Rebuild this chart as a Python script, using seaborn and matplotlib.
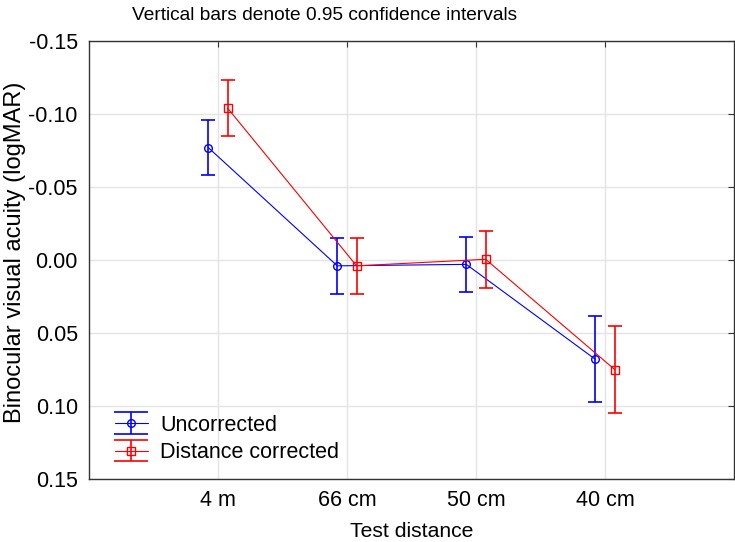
import matplotlib
matplotlib.use('Agg')
import matplotlib.pyplot as plt
from matplotlib.lines import Line2D
from matplotlib.container import ErrorbarContainer
from matplotlib.legend_handler import HandlerTuple, HandlerErrorbar
import seaborn as sns
import pandas as pd
import numpy as np

# Datos
distances = ['4 m', '66 cm', '50 cm', '40 cm']
groups = ['Uncorrected', 'Distance corrected']
uncorrected_mean = [-0.077, 0.004, 0.003, 0.068]
uncorrected_ci = [0.019, 0.019, 0.019, 0.0295]
corrected_mean = [-0.104, 0.004, -0.0005, 0.075]
corrected_ci = [0.019, 0.019, 0.0195, 0.0295]
y_ticks = [-0.15, -0.10, -0.05, 0.00, 0.05, 0.10, 0.15]

# Estilo
sns.set_style('white')
plt.rcParams['font.family'] = ['Liberation Sans', 'DejaVu Sans']
plt.rcParams['text.color'] = 'black'
plt.rcParams['axes.labelcolor'] = 'black'
plt.rcParams['xtick.labelcolor'] = 'black'
plt.rcParams['ytick.labelcolor'] = 'black'

colors = {'Uncorrected': '#0000ff', 'Distance corrected': '#ff0000'}
markers = {'Uncorrected': 'o', 'Distance corrected': 's'}
offsets = {'Uncorrected': -0.075, 'Distance corrected': 0.075}

rows = []
for g, means, cis in [(groups[0], uncorrected_mean, uncorrected_ci),
                      (groups[1], corrected_mean, corrected_ci)]:
    for i, (d, m, c) in enumerate(zip(distances, means, cis)):
        rows.append({'group': g, 'distance': d, 'pos': i + offsets[g],
                     'mean': m, 'ci': c})
df = pd.DataFrame(rows)

fig = plt.figure(figsize=(7.35, 5.42), dpi=100)
ax = fig.add_axes([0.121, 0.1162, 0.8776, 0.8082])

handles = []
for g in groups:
    sub = df[df['group'] == g]
    c = colors[g]
    sns.lineplot(data=sub, x='pos', y='mean', color=c, marker=markers[g],
                 markersize=5.5, mfc='none', mec=c, mew=1.0, linewidth=0.8,
                 estimator=None, sort=False, legend=False, ax=ax)
    line = ax.lines[-1]
    err = ax.errorbar(sub['pos'], sub['mean'], yerr=sub['ci'], fmt='none',
                      ecolor=c, elinewidth=1.2, capsize=5, capthick=1.2)
    handles.append((line, err))

# Ejes
ax.set_xlim(-1, 4)
ax.set_xticks(range(len(distances)))
ax.set_xticklabels(distances)
ax.set_ylim(0.15, -0.15)
ax.set_yticks(y_ticks)
ax.set_yticklabels([f'{v:.2f}' for v in y_ticks])
ax.tick_params(axis='both', direction='in', length=4, width=0.8,
               labelsize=15.5, top=True, right=True, color='#333333', pad=8)
ax.grid(True, color='#e4e4e4', linewidth=1.0)
ax.set_axisbelow(True)
for s in ax.spines.values():
    s.set_color('#333333')
    s.set_linewidth(1.0)

ax.set_xlabel('Test distance', fontsize=15.2, labelpad=8)
ax.set_ylabel('Binocular visual acuity (logMAR)', fontsize=17, va='center')
ax.yaxis.set_label_coords(-0.115, 0.517)
fig.text(325 / 735, 1 - 15 / 542, 'Vertical bars denote 0.95 confidence intervals',
         ha='center', va='center', fontsize=13.8)


def wide_caps(legend_handle, orig_handle):
    legend_handle.update_from(orig_handle)
    if isinstance(legend_handle, Line2D):
        legend_handle.set_markersize(24)


ax.legend(handles=handles, labels=groups, loc='lower left',
          bbox_to_anchor=(0.02, 0.007), frameon=False, fontsize=15.5,
          handlelength=1.55, handletextpad=0.55, labelspacing=0.3,
          borderaxespad=0.2,
          handler_map={tuple: HandlerTuple(ndivide=1),
                       ErrorbarContainer: HandlerErrorbar(update_func=wide_caps)})

fig.savefig('out.png', dpi=100)
